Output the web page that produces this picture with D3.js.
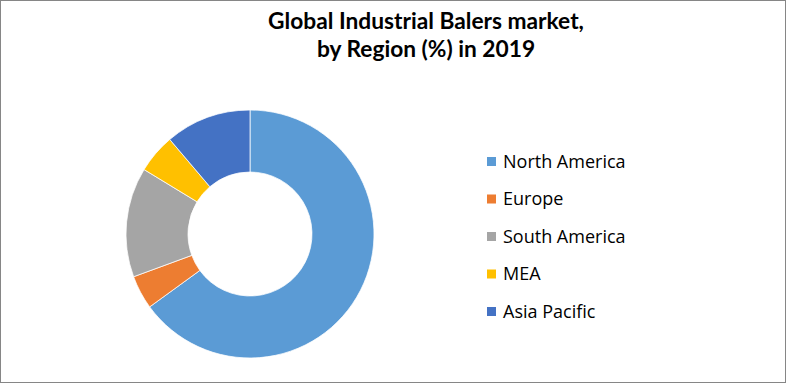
<!DOCTYPE html>
<html>
<head>
<meta charset="utf-8">
<script src="https://cdn.jsdelivr.net/npm/d3@7"></script>
<style>
  html, body { margin: 0; padding: 0; background: #fff; }
  svg { display: block; }
</style>
</head>
<body>
<svg id="chart" width="787" height="384"></svg>
<script>
const categories = ["North America", "Europe", "South America", "MEA", "Asia Pacific"];
const values = [65.0, 4.4, 14.3, 5.1, 11.2];
const colors = ["#5B9BD5", "#ED7D31", "#A5A5A5", "#FFC000", "#4472C4"];
const titleLines = ["Global Industrial Balers market,", "by Region (%) in 2019"];

const svg = d3.select("#chart");
const W = 787, H = 384;

svg.append("rect")
  .attr("x", 0.5).attr("y", 0.5)
  .attr("width", 785).attr("height", 382)
  .attr("fill", "#fff").attr("stroke", "#868686").attr("stroke-width", 1);

// Title
const title = svg.append("text")
  .attr("text-anchor", "middle")
  .attr("font-family", "Lato, 'Open Sans', sans-serif")
  .attr("font-weight", "bold")
  .attr("font-size", 20)
  .attr("fill", "#000");
title.selectAll("tspan").data(titleLines).join("tspan")
  .attr("x", 426)
  .attr("y", (d, i) => 29 + i * 28)
  .text(d => d);
// fit the first line's width to the reference (~316px)
const t0 = title.select("tspan").node().getComputedTextLength();
title.attr("font-size", 20 * 316 / t0);

// Donut
const cx = 250, cy = 234, rOuter = 124, rInner = 62;
const color = d3.scaleOrdinal().domain(categories).range(colors);
const pie = d3.pie().sort(null).value(d => d.value);
const arc = d3.arc().innerRadius(rInner).outerRadius(rOuter);
const data = categories.map((c, i) => ({ name: c, value: values[i] }));

const g = svg.append("g").attr("transform", `translate(${cx},${cy})`);
g.selectAll("path").data(pie(data)).join("path")
  .attr("d", arc)
  .attr("fill", d => color(d.data.name))
  .attr("stroke", "#fff")
  .attr("stroke-width", 0.75);

// Legend
const legendY = d3.scalePoint().domain(categories).range([161.5, 311.5]);
const lg = svg.append("g");
const item = lg.selectAll("g").data(categories).join("g")
  .attr("transform", d => `translate(487,${legendY(d)})`);
item.append("rect")
  .attr("x", 0).attr("y", -4.5)
  .attr("width", 9).attr("height", 9)
  .attr("fill", d => color(d));
item.append("text")
  .attr("x", 16).attr("y", 0)
  .attr("dy", "0.36em")
  .attr("font-family", "'Open Sans', sans-serif")
  .attr("font-size", 18)
  .attr("fill", "#000")
  .text(d => d);
</script>
</body>
</html>
